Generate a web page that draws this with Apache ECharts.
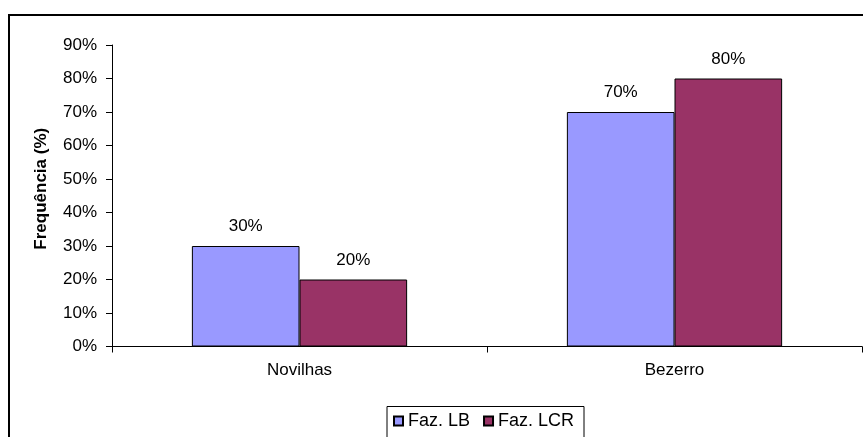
<!DOCTYPE html>
<html>
<head>
<meta charset="utf-8">
<script src="https://cdn.jsdelivr.net/npm/echarts@6/dist/echarts.min.js"></script>
<style>
html,body{margin:0;padding:0;background:#fff;}
#c{width:863px;height:437px;}
</style>
</head>
<body>
<div id="c"></div>
<script>
var categories = ['Novilhas', 'Bezerro'];
var seriesNames = ['Faz. LB', 'Faz. LCR'];
var lbValues = [30, 70];
var lcrValues = [20, 80];
var yTicks = { min: 0, max: 90, interval: 10 };

var FONT = 'Liberation Sans, Arial, sans-serif';
var chart = echarts.init(document.getElementById('c'), null, {renderer: 'canvas'});
var labelStyle = {
  show: true, position: 'top', distance: 11,
  formatter: function (p) { return p.value + '%'; },
  color: '#000', fontFamily: FONT, fontSize: 17
};
chart.setOption({
  animation: false,
  backgroundColor: '#fff',
  textStyle: { fontFamily: FONT },
  graphic: [
    { type: 'rect', shape: { x: 9, y: 15, width: 900, height: 500 },
      style: { fill: 'none', stroke: '#000', lineWidth: 2 }, z: -1, silent: true },
    { type: 'rect', shape: { x: 387, y: 406.5, width: 197, height: 60 },
      style: { fill: '#fff', stroke: '#000', lineWidth: 1 }, z: -1, silent: true }
  ],
  grid: { left: 112, right: 1, top: 45, bottom: 90.5, containLabel: false },
  legend: {
    left: 388, top: 407, itemWidth: 9, itemHeight: 9, itemGap: 13,
    icon: 'rect',
    textStyle: { fontFamily: FONT, fontSize: 18, color: '#000' },
    data: seriesNames
  },
  xAxis: {
    type: 'category', data: categories, boundaryGap: true,
    axisLine: { lineStyle: { color: '#000', width: 1 } },
    axisTick: { show: true, length: 6, interval: 0, lineStyle: { color: '#000' } },
    axisLabel: { color: '#000', fontFamily: FONT, fontSize: 17, margin: 15 }
  },
  yAxis: {
    type: 'value', min: yTicks.min, max: yTicks.max, interval: yTicks.interval,
    name: 'Frequência (%)', nameLocation: 'middle', nameGap: 62,
    nameTextStyle: { color: '#000', fontFamily: FONT, fontSize: 17, fontWeight: 'bold',
      padding: [0, 0, 0, 14] },
    axisLine: { show: true, lineStyle: { color: '#000', width: 1 } },
    axisTick: { show: true, length: 6, lineStyle: { color: '#000' } },
    splitLine: { show: false },
    axisLabel: { color: '#000', fontFamily: FONT, fontSize: 17, margin: 15,
      formatter: '{value}%' }
  },
  series: [
    { name: seriesNames[0], type: 'bar', data: lbValues,
      barGap: '0%', barCategoryGap: '42.6%',
      itemStyle: { color: '#9999FF', borderColor: '#000', borderWidth: 1 },
      label: labelStyle },
    { name: seriesNames[1], type: 'bar', data: lcrValues,
      barGap: '0%', barCategoryGap: '42.6%',
      itemStyle: { color: '#993366', borderColor: '#000', borderWidth: 1 },
      label: labelStyle }
  ]
});
</script>
</body>
</html>
